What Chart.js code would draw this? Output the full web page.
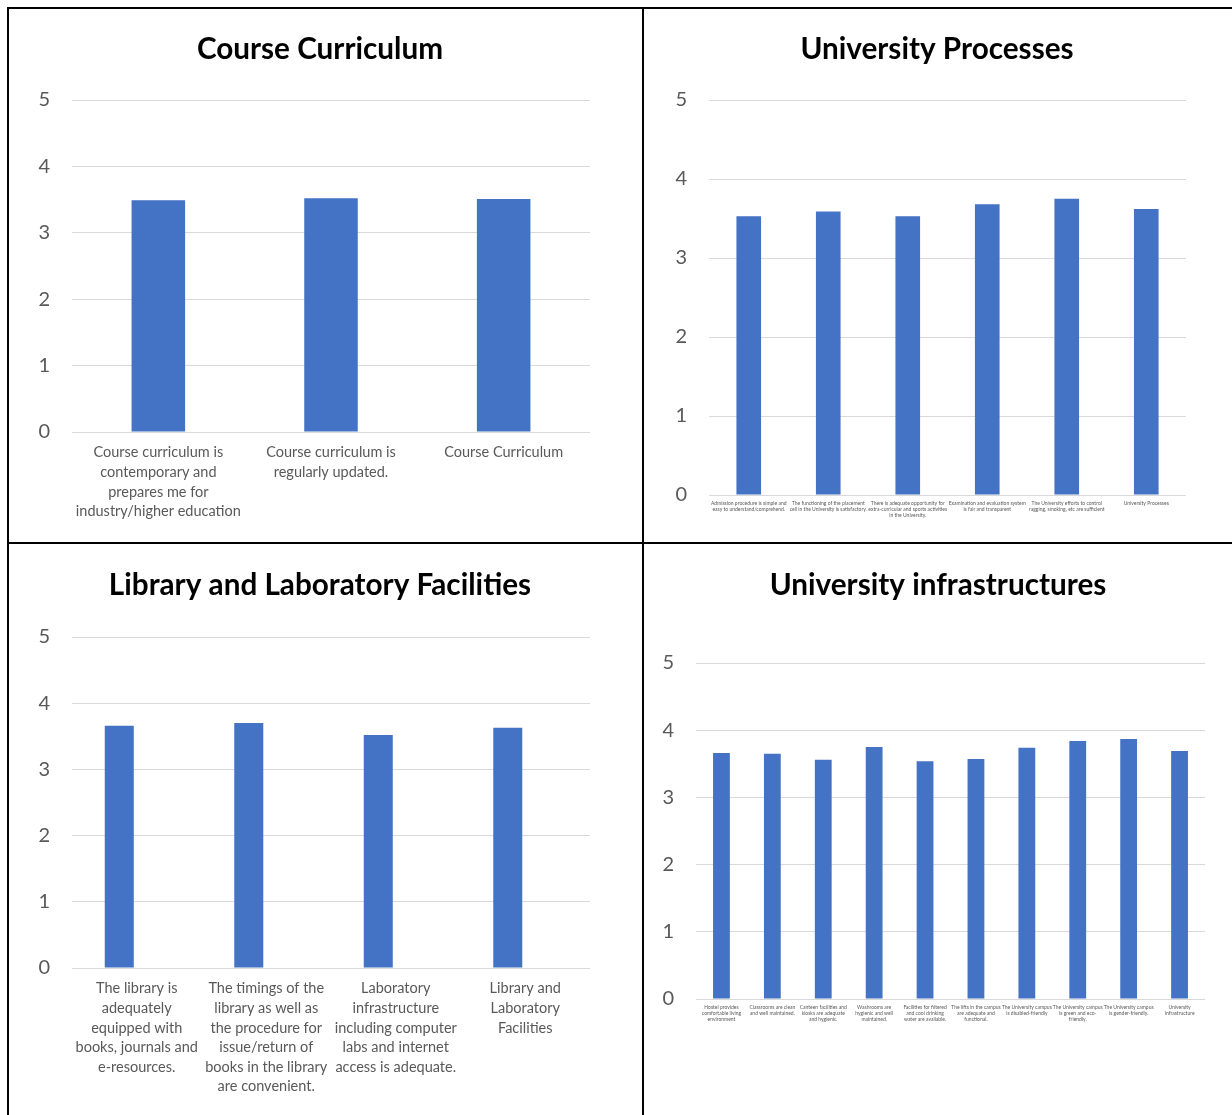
<!DOCTYPE html>
<html>
<head>
<meta charset="utf-8">
<script src="https://cdn.jsdelivr.net/npm/chart.js@4.4.0/dist/chart.umd.min.js"></script>
<style>
  body { margin: 0; background: #fff; }
  #page { position: relative; width: 1232px; height: 1115px; overflow: hidden; }
  canvas { position: absolute; }
  .ln { position: absolute; background: #000; }
</style>
</head>
<body>
<div id="page">
  <div class="ln" style="left:7px;top:7px;width:1225px;height:2px"></div>
  <div class="ln" style="left:7px;top:7px;width:2px;height:1108px"></div>
  <div class="ln" style="left:642px;top:7px;width:2px;height:1108px"></div>
  <div class="ln" style="left:7px;top:542px;width:1225px;height:2px"></div>
  <canvas id="c1"></canvas>
  <canvas id="c2"></canvas>
  <canvas id="c3"></canvas>
  <canvas id="c4"></canvas>
</div>
<script>
// data
const yMax = 5;

const curriculumLabels = [
  ['Course curriculum is', 'contemporary and', 'prepares me for', 'industry/higher education'],
  ['Course curriculum is', 'regularly updated.'],
  ['Course Curriculum']
];
const curriculumValues = [3.49, 3.52, 3.51];

const processLabels = [
  ['Admission procedure is simple and', 'easy to understand/comprehend.'],
  ['The functioning of the placement', 'cell in the University is satisfactory.'],
  ['There is adequate opportunity for', 'extra-curricular and sports activities', 'in the University.'],
  ['Examination and evaluation system', 'is fair and transparent'],
  ['The University efforts to control', 'ragging, smoking, etc are sufficient'],
  ['University Processes']
];
const processValues = [3.53, 3.59, 3.53, 3.68, 3.75, 3.62];

const libraryLabels = [
  ['The library is', 'adequately', 'equipped with', 'books, journals and', 'e-resources.'],
  ['The timings of the', 'library as well as', 'the procedure for', 'issue/return of', 'books in the library', 'are convenient.'],
  ['Laboratory', 'infrastructure', 'including computer', 'labs and internet', 'access is adequate.'],
  ['Library and', 'Laboratory', 'Facilities']
];
const libraryValues = [3.66, 3.70, 3.52, 3.63];
// the sheet has an empty second series here, so the bars sit left of their labels
const libraryEmpty = [null, null, null, null];

const infraLabels = [
  ['Hostel provides', 'comfortable living', 'environment'],
  ['Classrooms are clean', 'and well maintained.'],
  ['Canteen facilities and', 'kiosks are adequate', 'and hygienic.'],
  ['Washrooms are', 'hygienic and well', 'maintained.'],
  ['Facilities for filtered', 'and cool drinking', 'water are available.'],
  ['The lifts in the campus', 'are adequate and', 'functional.'],
  ['The University campus', 'is disabled-friendly'],
  ['The University campus', 'is green and eco-', 'friendly.'],
  ['The University campus', 'is gender-friendly.'],
  ['University', 'Infrastructure']
];
const infraValues = [3.66, 3.65, 3.56, 3.75, 3.54, 3.57, 3.74, 3.84, 3.87, 3.69];

const FONT = 'Lato, "Liberation Sans", sans-serif';
const BLUE = '#4472C4';
const GREY = '#595959';

const makeChart = (id, cfg) => {
  const cv = document.getElementById(id);
  cv.style.left = cfg.left + 'px';
  cv.style.top = cfg.top + 'px';
  cv.width = cfg.width;
  cv.height = cfg.height;

  let datasets = [{
    data: cfg.values,
    backgroundColor: BLUE,
    borderWidth: 0,
    categoryPercentage: cfg.catPct || 1,
    barPercentage: cfg.barPct
  }];
  if (cfg.extra) {
    datasets.push({
      data: cfg.extra,
      backgroundColor: '#fff',
      borderWidth: 0,
      categoryPercentage: cfg.catPct || 1,
      barPercentage: cfg.barPct
    });
  }

  return new Chart(cv.getContext('2d'), {
    type: 'bar',
    data: { labels: cfg.labels, datasets: datasets },
    options: {
      responsive: false,
      animation: false,
      devicePixelRatio: 1,
      layout: { padding: 0 },
      plugins: {
        legend: { display: false },
        tooltip: { enabled: false },
        title: {
          display: true,
          text: cfg.title,
          color: '#000',
          font: { family: FONT, size: 29.7, weight: 'bold', lineHeight: 1.2 },
          padding: { top: cfg.titleTop, bottom: cfg.titleBottom }
        }
      },
      scales: {
        x: {
          grid: { display: false, drawTicks: false },
          border: { display: false },
          ticks: {
            color: GREY,
            autoSkip: false,
            maxRotation: 0,
            padding: cfg.xPad,
            font: { family: FONT, size: cfg.xFont, lineHeight: cfg.xLine }
          },
          afterFit: (s) => { s.height = cfg.xHeight; }
        },
        y: {
          min: 0,
          max: yMax,
          grid: { color: '#d9d9d9', lineWidth: 1, drawTicks: false },
          border: { display: false },
          ticks: {
            stepSize: 1,
            color: GREY,
            padding: 22,
            font: { family: FONT, size: 20 }
          },
          afterFit: (s) => { s.width = cfg.yWidth; }
        },
        pad: {
          type: 'linear',
          position: 'right',
          grid: { display: false },
          border: { display: false },
          ticks: { display: false },
          afterFit: (s) => { s.width = cfg.rightPad; }
        }
      }
    }
  });
};

// title line box is 29.7 * 1.2 = 35.6px
makeChart('c1', {
  left: 9, top: 10, width: 622, height: 531,
  title: 'Course Curriculum', titleTop: 21.2, titleBottom: 33.2,
  labels: curriculumLabels, values: curriculumValues, barPct: 0.31,
  yWidth: 63, rightPad: 41, xHeight: 109, xPad: 11, xFont: 14.5, xLine: 1.35
});

makeChart('c2', {
  left: 645, top: 10, width: 584, height: 531,
  title: 'University Processes', titleTop: 21.2, titleBottom: 33.2,
  labels: processLabels, values: processValues, barPct: 0.31,
  yWidth: 64, rightPad: 43, xHeight: 46, xPad: 5, xFont: 5, xLine: 1.2
});

makeChart('c3', {
  left: 9, top: 545, width: 622, height: 570,
  title: 'Library and Laboratory Facilities', titleTop: 22.2, titleBottom: 34.2,
  labels: libraryLabels, values: libraryValues, extra: libraryEmpty,
  catPct: 0.54, barPct: 0.83,
  yWidth: 63, rightPad: 41, xHeight: 147, xPad: 11, xFont: 14.5, xLine: 1.35
});

makeChart('c4', {
  left: 645, top: 545, width: 586, height: 570,
  title: 'University infrastructures', titleTop: 22.2, titleBottom: 60.2,
  labels: infraLabels, values: infraValues, barPct: 0.33,
  yWidth: 51, rightPad: 26, xHeight: 116, xPad: 5, xFont: 5, xLine: 1.2
});
</script>
</body>
</html>
